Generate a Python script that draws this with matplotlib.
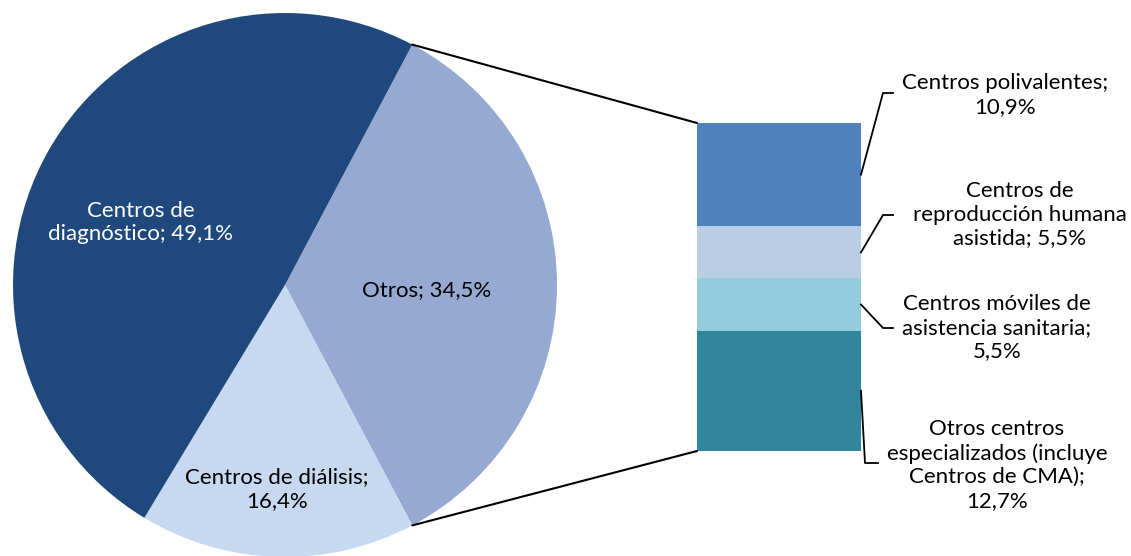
import matplotlib
matplotlib.use("Agg")
import matplotlib.pyplot as plt
from matplotlib.patches import ConnectionPatch
from matplotlib.lines import Line2D
import numpy as np

plt.rcParams['font.family'] = ['Lato', 'DejaVu Sans']

# Data
pie_labels = ["Otros; 34,5%", "Centros de diálisis;\n16,4%", "Centros de\ndiagnóstico; 49,1%"]
pie_values = [34.5, 16.4, 49.1]
pie_colors = ["#95A9D1", "#C6D9F1", "#1F497D"]

bar_labels = ["Otros centros\nespecializados (incluye\nCentros de CMA);\n12,7%",
              "Centros móviles de\nasistencia sanitaria;\n5,5%",
              "Centros de\nreproducción humana\nasistida; 5,5%",
              "Centros polivalentes;\n10,9%"]
bar_values = [12.7, 5.5, 5.5, 10.9]
bar_colors = ["#31859C", "#93CDDD", "#B9CDE5", "#4F81BD"]

W, H = 1131, 556
fig = plt.figure(figsize=(W / 100, H / 100), dpi=100)


def px(x, y):
    # image pixel (top-left origin) -> figure fraction
    return x / W, 1 - y / H


FS = 16
LS = 1.22

# pie
ax1 = fig.add_axes([13 / W, -1 / H, 544 / W, 544 / H])
start = pie_values[0] / 100 * 360 / 2
wedges, _ = ax1.pie(pie_values, colors=pie_colors, startangle=start,
                    counterclock=False, radius=1)
ax1.set_xlim(-1, 1)
ax1.set_ylim(-1, 1)
ax1.set_aspect('equal')
ax1.axis('off')

pie_text_pos = [(0.52, -0.02), (-0.03, -0.75), (-0.53, 0.23)]
pie_text_col = ["black", "black", "white"]
for lab, (tx, ty), c in zip(pie_labels, pie_text_pos, pie_text_col):
    ax1.text(tx, ty, lab, ha='center', va='center', color=c, fontsize=FS,
             linespacing=LS)

# bar of pie
ax2 = fig.add_axes([697 / W, (H - 451) / H, 164 / W, 328 / H])
bottom = 0
mids = []
for v, c in zip(bar_values, bar_colors):
    ax2.bar(0, v, width=1, bottom=bottom, color=c, align='center')
    mids.append(bottom + v / 2)
    bottom += v
ax2.set_xlim(-0.5, 0.5)
ax2.set_ylim(0, bottom)
ax2.axis('off')

# connectors between pie and bar
ang = np.deg2rad(start)
for sgn, ybar in [(1, bottom), (-1, 0)]:
    con = ConnectionPatch(xyA=(np.cos(ang), sgn * np.sin(ang)), coordsA=ax1.transData,
                          xyB=(-0.5, ybar), coordsB=ax2.transData,
                          color='black', lw=1.5)
    fig.add_artist(con)

# labels for bar segments with leader lines
elbows = [((865, 463), (878, 463)), ((883, 328), (893, 328)),
          ((883, 215), (893, 215)), ((883, 93), (893, 93))]
text_pos = [(997, 465), (997, 328), (1020, 215), (1005, 95)]
fig.canvas.draw()
for lab, m, (e1, e2), (tx, ty) in zip(bar_labels, mids, elbows, text_pos):
    p0 = fig.transFigure.inverted().transform(ax2.transData.transform((0.5, m)))
    a = px(*e1)
    b = px(*e2)
    fig.add_artist(Line2D([p0[0], a[0], b[0]], [p0[1], a[1], b[1]],
                          color='black', lw=1.3, transform=fig.transFigure))
    fx, fy = px(tx, ty)
    fig.text(fx, fy, lab, ha='center', va='center', fontsize=FS, linespacing=LS)

fig.savefig("out.png", dpi=100)
